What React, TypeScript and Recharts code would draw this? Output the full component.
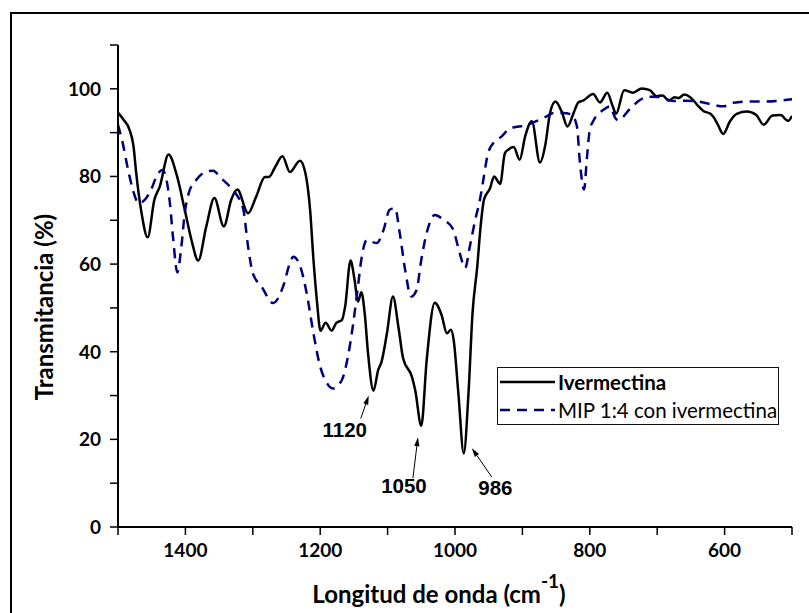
import { LineChart, Line, XAxis, YAxis, Legend, ReferenceDot } from "recharts";

// Ivermectina (solid black)
const ivmWavenumber = [
  1500, 1492, 1483, 1477, 1473, 1465, 1456, 1446, 1438, 1425, 1413, 1401, 1391, 1381,
  1369, 1357, 1343, 1332, 1323, 1307, 1295, 1282, 1276, 1267, 1256, 1245, 1230, 1222,
  1215, 1210, 1205, 1199.5, 1192, 1183, 1176, 1168, 1163, 1155, 1149, 1144, 1139, 1134,
  1129, 1121, 1114, 1109, 1101, 1092, 1084, 1077, 1064, 1059, 1050, 1042, 1030, 1020,
  1012, 1006, 1002, 995, 987, 980, 974, 967, 962, 957, 948, 942, 933, 926, 921, 913,
  904, 896, 886, 874, 866, 859, 851, 842, 833, 824, 817, 810, 795, 785, 774, 766, 761,
  749, 736, 723, 711, 701, 692, 683, 674, 668, 660, 651, 641, 631, 621, 617, 610, 602,
  592, 582, 567, 553, 542, 529, 517, 506, 500
];
const ivmTransmittance = [
  94.6, 93.0, 90.7, 86.9, 80.8, 71.6, 66.1, 74.7, 77.7, 85.0, 80.4, 72.4, 65.5, 60.8,
  68.6, 75.1, 68.6, 74.7, 77.0, 71.6, 75.4, 79.9, 79.9, 82.1, 84.6, 81.0, 83.6, 80.8,
  72.4, 61.0, 51.8, 44.8, 46.6, 44.8, 46.6, 47.2, 50.3, 60.8, 56.4, 51.4, 53.6, 48.8,
  39.6, 31.1, 35.8, 37.7, 44.2, 52.6, 45.7, 38.5, 34.3, 31.2, 23.1, 38.1, 51.2, 48.4,
  44.2, 45.0, 42.7, 30.5, 16.8, 30.5, 48.8, 59.4, 68.6, 74.7, 77.3, 80.0, 78.3, 85.3, 86.1, 86.7,
  83.8, 89.1, 92.6, 83.2, 87.2, 94.5, 97.1, 94.9, 91.4, 94.5, 96.9, 97.3, 98.8, 96.9, 99.1, 96.0, 94.3,
  99.7, 99.1, 100.1, 99.7, 98.3, 98.5, 97.3, 98.1, 97.9, 98.7, 98.1, 96.4, 94.9, 94.3, 93.7, 91.8, 89.7,
  92.6, 94.3, 94.8, 94.0, 91.8, 93.9, 94.0, 92.7, 93.8
];

// MIP 1:4 con ivermectina (dashed navy)
const mipWavenumber = [
  1500, 1493, 1485, 1478, 1469, 1460, 1450, 1443, 1434, 1428, 1423, 1418, 1412, 1406,
  1401, 1395, 1384, 1369, 1359, 1347, 1334, 1324, 1314, 1307, 1300, 1287, 1270, 1255,
  1245, 1240, 1228, 1220, 1210, 1200, 1191, 1181, 1168, 1158, 1151, 1144, 1139, 1131,
  1124, 1116, 1106, 1097, 1089, 1082, 1074, 1065, 1057, 1050, 1042, 1030, 1017, 1003,
  993, 985, 978, 970, 963, 958, 951, 941, 931, 921, 906, 896, 886, 874, 864, 854, 839,
  827, 819, 815, 808.5, 804.5, 800, 795, 780, 770, 762, 758, 740, 725, 710, 695, 676,
  656, 639, 621, 602, 587, 567, 542, 518, 500
];
const mipTransmittance = [
  91.8, 87.6, 81.5, 77.0, 73.9, 74.7, 77.3, 80.0, 81.5, 79.2, 73.9, 65.5, 58.1, 64.0,
  71.6, 76.2, 79.2, 81.1, 81.3, 79.6, 77.7, 75.8, 72.4, 64.0, 57.9, 54.9, 51.1, 54.9,
  60.2, 61.7, 58.7, 53.3, 44.2, 36.6, 33.1, 31.6, 33.5, 39.6, 46.5, 54.9, 61.0, 65.5,
  65.1, 64.8, 67.8, 72.4, 72.8, 67.1, 58.7, 52.6, 54.1, 61.0, 67.1, 71.2, 70.1, 68.0,
  62.5, 59.1, 64.0, 70.1, 74.7, 79.2, 85.3, 88.0, 89.1, 90.7, 91.4, 91.6, 92.2, 93.0, 93.7, 94.5, 94.5,
  94.1, 91.4, 83.8, 77.0, 83.8, 90.7, 92.6, 95.2, 96.0, 93.3, 92.8, 95.5, 97.5, 98.2, 98.1, 97.2,
  97.3, 97.1, 96.5, 96.0, 96.8, 97.1, 97.1, 97.3, 97.6
];

const xTicks = [1500, 1400, 1300, 1200, 1100, 1000, 900, 800, 700, 600, 500];
const xLabelled = [1400, 1200, 1000, 800, 600];
const yTicks = [0, 10, 20, 30, 40, 50, 60, 70, 80, 90, 100, 110];
const yLabelled = [0, 20, 40, 60, 80, 100];

// peak annotations: label, arrow tip in data units
const peakLabels = ["1120", "1050", "986"];
const peakWavenumber = [1128, 1055, 975];
const peakTransmittance = [30, 20.5, 18];
// pixel offsets from the tip: arrow tail and label baseline
const peakOffsets = [
  { tailX: -8, tailY: 23, textX: -24, textY: 41 },
  { tailX: -5, tailY: 41, textX: -14, textY: 56 },
  { tailX: 20, tailY: 29, textX: 23.5, textY: 47 },
];

const ivmData = ivmWavenumber.map((w, i) => ({ w, t: ivmTransmittance[i] }));
const mipData = mipWavenumber.map((w, i) => ({ w, t: mipTransmittance[i] }));

const NAVY = "#00007f";
const tickFont = "Lato, 'Open Sans', sans-serif";

function XTick({ x, y, payload }: any) {
  if (!xLabelled.includes(payload.value)) return null;
  return (
    <text x={x} y={y + 20} textAnchor="middle" fontFamily={tickFont} fontWeight={700} fontSize={19} fill="#000">
      {payload.value}
    </text>
  );
}

function YTick({ x, y, payload }: any) {
  if (!yLabelled.includes(payload.value)) return null;
  return (
    <text x={x - 7} y={y} dy="0.36em" textAnchor="end" fontFamily={tickFont} fontWeight={700} fontSize={19} fill="#000">
      {payload.value}
    </text>
  );
}

function makeArrow(i: number) {
  return (props: any) => {
    const { cx, cy } = props;
    const o = peakOffsets[i];
    const tx = cx + o.tailX;
    const ty = cy + o.tailY;
    const len = Math.hypot(o.tailX, o.tailY);
    const ux = -o.tailX / len;
    const uy = -o.tailY / len;
    const hl = 9;
    const hw = 2.6;
    const bx = cx - ux * hl;
    const by = cy - uy * hl;
    return (
      <g>
        <line x1={tx} y1={ty} x2={bx} y2={by} stroke="#000" strokeWidth={1} />
        <polygon
          points={`${cx},${cy} ${bx - uy * hw},${by + ux * hw} ${bx + uy * hw},${by - ux * hw}`}
          fill="#000"
        />
        <text
          x={cx + o.textX}
          y={cy + o.textY}
          textAnchor="middle"
          fontFamily="Liberation Sans, Arial, sans-serif"
          fontWeight={700}
          fontSize={20.5}
          fill="#000"
        >
          {peakLabels[i]}
        </text>
      </g>
    );
  };
}

function LegendBox({ payload }: any) {
  return (
    <div
      style={{
        width: 280,
        height: 56,
        border: "1px solid #111",
        background: "#fff",
        fontFamily: tickFont,
        fontSize: 20.5,
        color: "#000",
        boxSizing: "content-box",
      }}
    >
      {(payload || []).map((entry: any, i: number) => (
        <div key={i} style={{ display: "flex", alignItems: "center", height: 28 }}>
          <svg width={60} height={10} style={{ flex: "none" }}>
            <line
              x1={2}
              y1={5}
              x2={57}
              y2={5}
              stroke={entry.color}
              strokeWidth={2.5}
              strokeDasharray={i === 1 ? "10 7" : undefined}
            />
          </svg>
          <span style={{ fontWeight: i === 0 ? 700 : 400, whiteSpace: "nowrap", lineHeight: 1 }}>{entry.value}</span>
        </div>
      ))}
    </div>
  );
}

export default function App() {
  return (
    <div style={{ position: "absolute", left: 0, top: 0, width: 809, height: 613, overflow: "hidden", background: "#fff" }}>
      <LineChart width={809} height={613} margin={{ top: 45, right: 17, bottom: 46, left: 58 }}>
        <XAxis
          dataKey="w"
          type="number"
          domain={[500, 1500]}
          reversed
          ticks={xTicks}
          interval={0}
          tick={<XTick />}
          tickSize={8}
          height={40}
          axisLine={{ stroke: "#000", strokeWidth: 2 }}
          tickLine={{ stroke: "#000", strokeWidth: 1.5 }}
          allowDataOverflow
        />
        <YAxis
          type="number"
          domain={[0, 110]}
          ticks={yTicks}
          interval={0}
          tick={<YTick />}
          tickSize={8}
          width={60}
          axisLine={{ stroke: "#000", strokeWidth: 2 }}
          tickLine={{ stroke: "#000", strokeWidth: 1.5 }}
          allowDataOverflow
        />
        <Line
          data={ivmData}
          dataKey="t"
          name="Ivermectina"
          type="monotone"
          stroke="#000"
          strokeWidth={2.5}
          dot={false}
          activeDot={false}
          isAnimationActive={false}
        />
        <Line
          data={mipData}
          dataKey="t"
          name="MIP 1:4 con ivermectina"
          type="monotone"
          stroke={NAVY}
          strokeWidth={2.5}
          strokeDasharray="10 7"
          dot={false}
          activeDot={false}
          isAnimationActive={false}
        />
        {peakLabels.map((label, i) => (
          <ReferenceDot
            key={label}
            x={peakWavenumber[i]}
            y={peakTransmittance[i]}
            r={0}
            shape={makeArrow(i)}
          />
        ))}
        <Legend
          layout="vertical"
          align="center"
          verticalAlign="middle"
          content={<LegendBox />}
          wrapperStyle={{ left: 497, top: 367, width: 282, height: 58 }}
        />
      </LineChart>
      <svg width={809} height={613} style={{ position: "absolute", left: 0, top: 0, pointerEvents: "none" }}>
        <rect x={11} y={13} width={820} height={640} fill="none" stroke="#000" strokeWidth={2} />
        <text
          x={53}
          y={307}
          transform="rotate(-90 53 307)"
          textAnchor="middle"
          fontFamily={tickFont}
          fontWeight={700}
          fontSize={24}
          fill="#000"
        >
          Transmitancia (%)
        </text>
        <text x={439} y={603} textAnchor="middle" fontFamily={tickFont} fontWeight={700} fontSize={24} fill="#000">
          Longitud de onda (cm
          <tspan dy={-15} fontSize={19}>-1</tspan>
          <tspan dy={15}>)</tspan>
        </text>
      </svg>
    </div>
  );
}
